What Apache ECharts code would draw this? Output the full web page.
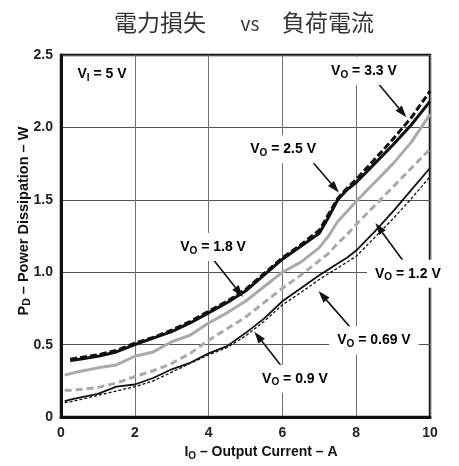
<!DOCTYPE html>
<html>
<head>
<meta charset="utf-8">
<script src="https://cdn.jsdelivr.net/npm/echarts@6/dist/echarts.min.js"></script>
<style>
  html, body { margin: 0; padding: 0; background: #fff; }
  #chart { width: 459px; height: 466px; }
</style>
</head>
<body>
<div id="chart"></div>
<script>
// output current (A)
const current = [0.1, 0.25, 0.5, 1, 1.5, 2, 2.5, 3, 3.5, 4, 4.5, 5, 5.5, 6, 6.5, 7, 7.25, 7.5, 7.75, 8, 8.5, 9, 9.5, 10];
// power dissipation (W) per output voltage
const pd33 = [null, 0.40, 0.41, 0.43, 0.46, 0.51, 0.55, 0.60, 0.66, 0.73, 0.80, 0.88, 0.99, 1.10, 1.19, 1.29, 1.40, 1.51, 1.58, 1.64, 1.78, 1.92, 2.07, 2.25];
const pd25 = [null, 0.39, 0.40, 0.42, 0.45, 0.50, 0.545, 0.59, 0.65, 0.72, 0.79, 0.87, 0.98, 1.09, 1.18, 1.27, 1.38, 1.50, 1.57, 1.62, 1.75, 1.88, 2.02, 2.18];
const pd18 = [0.29, 0.30, 0.315, 0.34, 0.36, 0.42, 0.45, 0.52, 0.565, 0.65, 0.72, 0.80, 0.90, 1.00, 1.07, 1.17, 1.25, 1.35, 1.42, 1.49, 1.62, 1.75, 1.90, 2.09];
const pd12 = [0.185, 0.185, 0.19, 0.205, 0.235, 0.28, 0.32, 0.37, 0.44, 0.53, 0.61, 0.69, 0.79, 0.89, 0.98, 1.08, 1.13, 1.20, 1.26, 1.33, 1.46, 1.59, 1.72, 1.85];
const pd09 = [0.11, 0.12, 0.135, 0.16, 0.21, 0.225, 0.27, 0.33, 0.375, 0.44, 0.49, 0.58, 0.68, 0.80, 0.89, 0.98, 1.02, 1.06, 1.10, 1.15, 1.28, 1.42, 1.57, 1.72];
const pd069 = [0.10, 0.105, 0.12, 0.15, 0.18, 0.21, 0.25, 0.31, 0.37, 0.43, 0.48, 0.56, 0.66, 0.775, 0.86, 0.95, 0.99, 1.03, 1.07, 1.11, 1.24, 1.37, 1.51, 1.66];

const yTickLabels = ['0', '0.5', '1.0', '1.5', '2.0', '2.5'];
const xTickLabels = ['0', '2', '4', '6', '8', '10'];
const titleParts = ['電力損失', 'vs', '負荷電流'];

// callouts: [main, sub, rest], label centre, arrow start, arrow tip (data units)
const notes = [
  { t: ['V', 'I', ' = 5 V'], at: [1.11, 2.37] },
  { t: ['V', 'O', ' = 3.3 V'], at: [8.21, 2.39], from: [8.54, 2.32], to: [9.36, 2.07] },
  { t: ['V', 'O', ' = 2.5 V'], at: [6.02, 1.85], from: [6.72, 1.79], to: [7.53, 1.55] },
  { t: ['V', 'O', ' = 1.8 V'], at: [4.12, 1.175], from: [4.12, 1.09], to: [4.93, 0.83] },
  { t: ['V', 'O', ' = 1.2 V'], at: [9.40, 0.99], from: [9.27, 1.08], to: [8.52, 1.34] },
  { t: ['V', 'O', ' = 0.69 V'], at: [8.48, 0.53], from: [7.91, 0.60], to: [6.98, 0.87] },
  { t: ['V', 'O', ' = 0.9 V'], at: [6.34, 0.265], from: [6.07, 0.32], to: [5.24, 0.59] }
];

const font = "'Liberation Sans', Arial, sans-serif";
function richFor(size) {
  return {
    m: { fontFamily: font, fontWeight: 'bold', fontSize: size, color: '#111', lineHeight: 18 },
    s: { fontFamily: font, fontWeight: 'bold', fontSize: size - 4, color: '#111', lineHeight: 8, verticalAlign: 'bottom' }
  };
}
const rich = richFor(14);

function pairs(vals) {
  return current.map((c, i) => [c, vals[i]]);
}
function line(name, vals, color, width, type) {
  return {
    name, type: 'line', data: pairs(vals), symbol: 'none', smooth: false,
    lineStyle: { color, width, type }, silent: true
  };
}

const chart = echarts.init(document.getElementById('chart'), null, { renderer: 'canvas' });

const option = {
  animation: false,
  backgroundColor: '#fff',
  grid: { left: 61, right: 29, top: 55, bottom: 43, show: true, borderColor: '#111', borderWidth: 2.5 },
  xAxis: {
    type: 'value', min: 0, max: 10, interval: 2,
    axisLine: { show: true, lineStyle: { color: '#111', width: 3 } },
    axisTick: { show: false },
    splitLine: { show: true, lineStyle: { color: '#707070', width: 1 } },
    axisLabel: {
      margin: 9, color: '#222', fontFamily: font, fontWeight: 'bold', fontSize: 14,
      formatter: v => xTickLabels[Math.round(v / 2)]
    },
    name: '{m|I}{s|O}{m| – Output Current – A}',
    nameLocation: 'middle', nameGap: 20,
    nameTextStyle: { rich, padding: [0, 0, 0, 31] }
  },
  yAxis: {
    type: 'value', min: 0, max: 2.5, interval: 0.5,
    axisLine: { show: true, lineStyle: { color: '#111', width: 3 } },
    axisTick: { show: false },
    splitLine: { show: true, lineStyle: { color: '#555', width: 1 } },
    axisLabel: {
      margin: 8, color: '#222', fontFamily: font, fontWeight: 'bold', fontSize: 14,
      formatter: v => yTickLabels[Math.round(v / 0.5)]
    },
    name: '{m|P}{s|D}{m| – Power Dissipation – W}',
    nameLocation: 'middle', nameGap: 28, nameMoveOverlap: false,
    nameTextStyle: { rich: richFor(14.5), padding: [0, 0, 0, 30] }
  },
  series: [
    line('1.8 V', pd18, '#aaa', 3, 'solid'),
    line('1.2 V', pd12, '#aaa', 3, [7, 4]),
    line('0.9 V', pd09, '#111', 1.8, 'solid'),
    line('0.69 V', pd069, '#111', 1.3, [3, 2]),
    line('2.5 V', pd25, '#111', 3, 'solid'),
    line('3.3 V', pd33, '#111', 3, [7, 3])
  ]
};

chart.setOption(option);

const graphics = [];
const titleFont = "'Noto Sans CJK JP', sans-serif";
graphics.push(
  { type: 'text', x: 114, y: 34, silent: true, style: { text: titleParts[0], align: 'left', verticalAlign: 'bottom', fontFamily: titleFont, fontSize: 23, fill: '#333' } },
  { type: 'text', x: 250, y: 33.5, silent: true, style: { text: titleParts[1], align: 'center', verticalAlign: 'bottom', fontFamily: titleFont, fontSize: 19, fill: '#333' } },
  { type: 'text', x: 282, y: 34, silent: true, style: { text: titleParts[2], align: 'left', verticalAlign: 'bottom', fontFamily: titleFont, fontSize: 23, fill: '#333' } }
);

notes.forEach(n => {
  if (n.from) {
    const a = chart.convertToPixel({ gridIndex: 0 }, n.from);
    const b = chart.convertToPixel({ gridIndex: 0 }, n.to);
    const dx = b[0] - a[0], dy = b[1] - a[1];
    const len = Math.sqrt(dx * dx + dy * dy);
    const ux = dx / len, uy = dy / len;
    const head = 12, half = 4;
    const bx = b[0] - ux * head, by = b[1] - uy * head;
    graphics.push({
      type: 'line', silent: true, z: 90,
      shape: { x1: a[0], y1: a[1], x2: bx, y2: by },
      style: { stroke: '#111', lineWidth: 1.6 }
    });
    graphics.push({
      type: 'polygon', silent: true, z: 90,
      shape: { points: [[b[0], b[1]], [bx - uy * half, by + ux * half], [bx + uy * half, by - ux * half]] },
      style: { fill: '#111' }
    });
  }
  const p = chart.convertToPixel({ gridIndex: 0 }, n.at);
  graphics.push({
    type: 'text', x: p[0], y: p[1], z: 100, silent: true,
    style: {
      text: '{m|' + n.t[0] + '}{s|' + n.t[1] + '}{m|' + n.t[2] + '}',
      rich, align: 'center', verticalAlign: 'middle',
      backgroundColor: '#fff', padding: [5, 8, 5, 8]
    }
  });
});

chart.setOption({ graphic: graphics });
</script>
</body>
</html>
